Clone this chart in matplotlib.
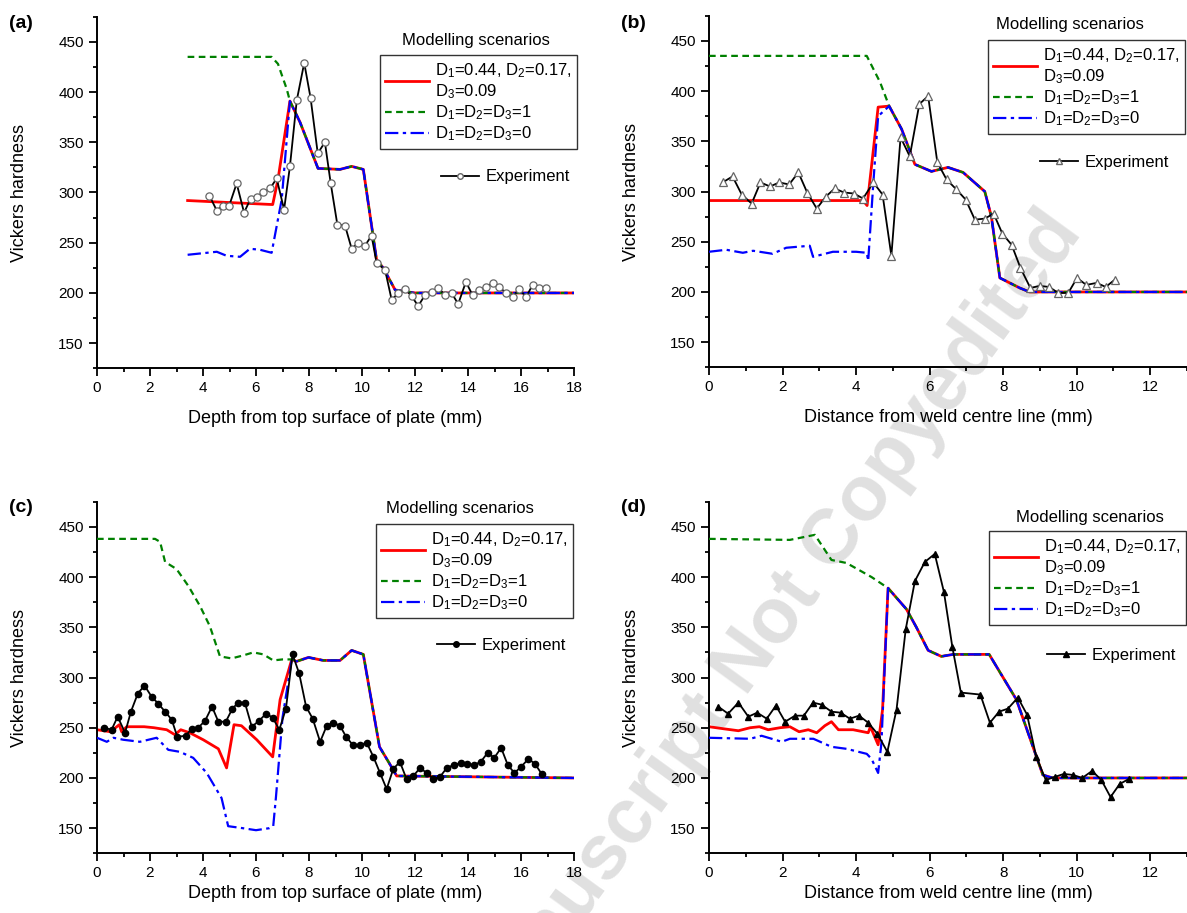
import numpy as np
import matplotlib
matplotlib.use('Agg')
import matplotlib.pyplot as plt
from matplotlib.ticker import MultipleLocator
from matplotlib.lines import Line2D

plt.rcParams['font.family'] = ['Liberation Sans', 'DejaVu Sans']
plt.rcParams['mathtext.fontset'] = 'custom'
plt.rcParams['mathtext.rm'] = 'Liberation Sans'
plt.rcParams['mathtext.it'] = 'Liberation Sans:italic'

# ---------------- panel (a) ----------------
a_tail_x = [7.28, 7.66, 8.34, 9.17, 9.61, 10.05, 10.55, 10.8, 11.25, 12.0, 18.0]
a_tail_y = [391, 370, 324, 323, 326, 323, 233, 225, 203, 200, 200]
a_red_x = [3.42, 5.0, 6.63, 6.83]
a_red_y = [292, 290, 288, 313]
a_green_x = [3.42, 6.59, 6.83, 7.0, 7.16]
a_green_y = [435, 435, 428, 415, 403]
a_blue_x = [3.42, 4.52, 4.89, 5.4, 5.77, 6.15, 6.59, 6.97]
a_blue_y = [238, 241, 237, 236, 244, 243, 240, 293]
a_exp_x = [4.24, 4.52, 4.74, 4.99, 5.27, 5.55, 5.8, 6.03, 6.28, 6.53, 6.78, 7.06,
           7.28, 7.54, 7.82, 8.06, 8.33, 8.6, 8.82, 9.07, 9.36, 9.61, 9.86, 10.11,
           10.36, 10.55, 10.87, 11.12, 11.37, 11.62, 11.87, 12.12, 12.38, 12.63,
           12.88, 13.13, 13.38, 13.63, 13.92, 14.17, 14.43, 14.68, 14.93, 15.18,
           15.43, 15.68, 15.93, 16.19, 16.44, 16.69, 16.96]
a_exp_y = [297, 282, 287, 287, 309, 280, 294, 296, 300, 304, 314, 283,
           326, 392, 429, 394, 339, 350, 309, 268, 267, 244, 250, 247,
           257, 230, 223, 193, 200, 204, 197, 187, 198, 201,
           205, 198, 200, 189, 211, 198, 203, 206, 210, 206,
           200, 196, 204, 196, 208, 205, 205]

# ---------------- panel (b) ----------------
b_tail_x = [4.9, 5.24, 5.6, 6.05, 6.5, 6.91, 7.5, 7.68, 7.91, 8.45, 8.72, 13.0]
b_tail_y = [385, 362, 327, 320, 324, 319, 300, 275, 214, 204, 200, 200]
b_red_x = [0.0, 2.0, 4.19, 4.3, 4.6]
b_red_y = [291, 291, 291, 286, 384]
b_green_x = [0.0, 4.29, 4.65]
b_green_y = [435, 435, 409]
b_blue_x = [0.0, 0.47, 0.92, 1.2, 1.73, 2.1, 2.74, 2.83, 3.37, 4.0, 4.29, 4.33, 4.47, 4.6]
b_blue_y = [240, 242, 239, 241, 238, 244, 246, 235, 240, 240, 239, 231, 309, 375]
b_exp_x = [0.37, 0.64, 0.89, 1.16, 1.4, 1.66, 1.91, 2.18, 2.43, 2.67, 2.93, 3.18,
           3.42, 3.67, 3.94, 4.19, 4.47, 4.72, 4.96, 5.21, 5.46, 5.72, 5.96, 6.21,
           6.46, 6.73, 6.98, 7.23, 7.5, 7.74, 7.98, 8.23, 8.47, 8.74, 8.99, 9.25,
           9.5, 9.77, 10.01, 10.26, 10.54, 10.79, 11.03]
b_exp_y = [309, 315, 297, 288, 309, 305, 309, 307, 319, 299, 283, 295,
           303, 299, 298, 293, 309, 297, 236, 354, 335, 387, 395, 329,
           312, 302, 292, 272, 273, 278, 258, 247, 224, 204, 206, 205,
           199, 199, 214, 207, 209, 205, 212]

# ---------------- panel (c) ----------------
c_tail_x = [7.35, 7.53, 7.98, 8.54, 9.17, 9.61, 10.05, 10.66, 11.0, 11.31, 18.0]
c_tail_y = [318, 316, 320, 317, 317, 327, 323, 231, 216, 202, 200]
c_red_x = [0.0, 0.51, 0.84, 0.93, 1.12, 1.78, 2.15, 2.63, 2.94, 3.16, 3.5, 4.01,
           4.58, 4.89, 5.17, 5.45, 6.03, 6.63, 6.91]
c_red_y = [248, 246, 253, 246, 251, 251, 250, 248, 243, 248, 245, 238,
           229, 210, 253, 252, 238, 221, 278]
c_green_x = [0.0, 2.19, 2.38, 2.57, 3.0, 3.45, 3.89, 4.26, 4.64, 5.08, 5.52, 5.9,
             6.28, 6.65, 7.0]
c_green_y = [438, 438, 435, 415, 408, 391, 371, 351, 321, 319, 322, 325,
             323, 317, 318]
c_blue_x = [0.0, 0.37, 0.62, 1.0, 1.62, 2.25, 2.69, 3.13, 3.63, 4.14, 4.7, 4.95,
            5.5, 6.0, 6.5, 6.65, 6.75, 7.0]
c_blue_y = [240, 236, 240, 238, 236, 240, 228, 226, 220, 205, 180, 152,
            150, 148, 150, 152, 180, 260]
c_exp_x = [0.26, 0.55, 0.78, 1.06, 1.28, 1.54, 1.79, 2.06, 2.31, 2.57, 2.82, 3.03,
           3.35, 3.57, 3.82, 4.08, 4.34, 4.58, 4.86, 5.11, 5.33, 5.58, 5.84, 6.12,
           6.38, 6.63, 6.88, 7.13, 7.38, 7.63, 7.89, 8.14, 8.42, 8.67, 8.92, 9.17,
           9.4, 9.65, 9.92, 10.18, 10.43, 10.68, 10.93, 11.18, 11.43, 11.68, 11.94,
           12.19, 12.44, 12.69, 12.94, 13.2, 13.47, 13.72, 13.97, 14.23, 14.48,
           14.74, 14.99, 15.25, 15.5, 15.75, 16.0, 16.28, 16.53, 16.78]
c_exp_y = [250, 248, 261, 245, 266, 284, 292, 281, 274, 266, 258, 241,
           242, 249, 250, 257, 271, 256, 256, 269, 275, 275, 251, 257,
           264, 260, 248, 269, 323, 304, 271, 259, 236, 252, 255, 252,
           241, 233, 233, 235, 221, 205, 189, 209, 216, 199, 202,
           210, 205, 199, 201, 210, 213, 215, 214, 213, 216,
           225, 220, 230, 213, 205, 211, 219, 214, 204]

# ---------------- panel (d) ----------------
d_tail_x = [4.87, 5.37, 5.64, 5.96, 6.32, 6.64, 7.62, 8.36, 9.08, 9.35, 13.0]
d_tail_y = [389, 368, 350, 327, 321, 323, 323, 278, 203, 200, 200]
d_red_x = [0.0, 0.39, 0.8, 1.12, 1.37, 1.61, 1.93, 2.2, 2.45, 2.7, 2.93, 3.15,
           3.33, 3.52, 3.92, 4.33, 4.39, 4.6, 4.72]
d_red_y = [251, 249, 247, 250, 251, 248, 250, 251, 246, 248, 245, 252,
           256, 248, 248, 245, 251, 233, 268]
d_green_x = [0.0, 2.2, 2.88, 3.33, 3.74, 4.42]
d_green_y = [438, 437, 442, 417, 414, 400]
d_blue_x = [0.0, 1.12, 1.43, 1.98, 2.2, 2.84, 3.33, 3.74, 4.29, 4.42, 4.6, 4.69]
d_blue_y = [240, 239, 242, 236, 239, 239, 231, 229, 224, 219, 205, 235]
d_exp_x = [0.25, 0.52, 0.8, 1.07, 1.31, 1.57, 1.82, 2.07, 2.34, 2.58, 2.83, 3.06,
           3.33, 3.58, 3.83, 4.08, 4.33, 4.58, 4.85, 5.1, 5.35, 5.6, 5.87, 6.14,
           6.39, 6.62, 6.85, 7.38, 7.64, 7.89, 8.13, 8.4, 8.65, 8.9, 9.16, 9.4,
           9.65, 9.9, 10.15, 10.42, 10.67, 10.92, 11.17, 11.42]
d_exp_y = [271, 264, 275, 261, 265, 259, 272, 256, 262, 262, 275, 273,
           266, 265, 259, 262, 255, 244, 226, 268, 348, 396, 415, 423,
           385, 330, 285, 283, 255, 266, 269, 280, 263, 221, 198, 201,
           204, 203, 200, 207, 198, 181, 194, 199]

W, H = 1187, 913
lab_red = 'D$_1$=0.44, D$_2$=0.17,\nD$_3$=0.09'
lab_green = 'D$_1$=D$_2$=D$_3$=1'
lab_blue = 'D$_1$=D$_2$=D$_3$=0'

fig = plt.figure(figsize=(W / 100, H / 100), dpi=100)


def fx(p):
    return p / W


def fy(p):
    return 1 - p / H


def panel(rect, xmax, red, green, blue, tail, exp, mk, filled, xlabel, tag,
          tagpos, xlab_top, box_tr, title_pos, exp_pos):
    left, bottom_px, width = rect
    ax = fig.add_axes([fx(left), fy(bottom_px), width / W, 351.6 / H])
    ax.set_facecolor('none')
    tx, ty = tail
    ax.plot(red[0] + tx, red[1] + ty, color='#ff0000', lw=2.0, zorder=2)
    ax.plot(green[0] + tx, green[1] + ty, color='#008000', lw=1.6,
            ls=(0, (3, 2)), zorder=3)
    ax.plot(blue[0] + tx, blue[1] + ty, color='#0000ff', lw=1.6,
            ls=(0, (6, 2, 1.5, 2)), zorder=4)
    if filled:
        ax.plot(exp[0], exp[1], color='black', lw=1.3, marker=mk, ms=4.5,
                mfc='black', mec='black', zorder=5)
    else:
        ax.plot(exp[0], exp[1], color='black', lw=1.3, marker=mk, ms=5.2,
                mfc='white', mec='#666666', mew=0.9, zorder=5)

    ax.set_xlim(0, xmax)
    ax.set_ylim(125, 475)
    ax.set_yticks([150, 200, 250, 300, 350, 400, 450])
    ax.xaxis.set_major_locator(MultipleLocator(2))
    ax.xaxis.set_minor_locator(MultipleLocator(1))
    ax.yaxis.set_minor_locator(MultipleLocator(25))
    for s in ['top', 'right']:
        ax.spines[s].set_visible(False)
    for s in ['left', 'bottom']:
        ax.spines[s].set_linewidth(1.4)
    ax.tick_params(which='both', direction='out', width=1.3, labelsize=11)
    ax.tick_params(which='major', length=6)
    ax.tick_params(which='minor', length=3)
    ax.set_xlabel(xlabel, fontsize=13)
    ax.set_ylabel('Vickers hardness', fontsize=13)
    ax.yaxis.set_label_coords(-0.145, 0.5)
    ax.xaxis.set_label_coords(0.5, -(xlab_top - bottom_px) / 351.6)
    fig.text(fx(tagpos[0]), fy(tagpos[1]), tag, fontsize=14,
             fontweight='bold', va='center', ha='left')

    # modelling scenarios legend
    hr = Line2D([], [], color='#ff0000', lw=2.0)
    hg = Line2D([], [], color='#008000', lw=1.6, ls=(0, (3, 2)))
    hb = Line2D([], [], color='#0000ff', lw=1.6, ls=(0, (6, 2, 1.5, 2)))
    leg = ax.legend([hr, hg, hb], [lab_red, lab_green, lab_blue],
                    loc='upper right', bbox_to_anchor=(fx(box_tr[0]), fy(box_tr[1])),
                    bbox_transform=fig.transFigure, borderaxespad=0,
                    fontsize=12, frameon=True, fancybox=False, framealpha=1,
                    edgecolor='#333333', handlelength=2.6, handletextpad=0.35,
                    labelspacing=0.15, borderpad=0.35)
    leg.get_frame().set_linewidth(1.0)
    ax.add_artist(leg)
    fig.text(fx(title_pos[0]), fy(title_pos[1]), 'Modelling scenarios',
             fontsize=12, ha='center', va='center')

    if filled:
        he = Line2D([], [], color='black', lw=1.3, marker=mk, ms=4,
                    mfc='black', mec='black')
    else:
        he = Line2D([], [], color='black', lw=1.3, marker=mk, ms=4,
                    mfc='white', mec='#666666')
    ax.legend([he], ['Experiment'], loc='center left',
              bbox_to_anchor=(fx(exp_pos[0]), fy(exp_pos[1])),
              bbox_transform=fig.transFigure, borderaxespad=0,
              borderpad=0, fontsize=12, frameon=False,
              handlelength=2.3, handletextpad=0.4)
    return ax


panel((97, 368.3, 477), 18, (a_red_x, a_red_y), (a_green_x, a_green_y),
      (a_blue_x, a_blue_y), (a_tail_x, a_tail_y), (a_exp_x, a_exp_y), 'o', False,
      'Depth from top surface of plate (mm)', '(a)', (9, 24), 410,
      (577, 55), (476, 41), (441, 177))

panel((709, 367.3, 478), 13, (b_red_x, b_red_y), (b_green_x, b_green_y),
      (b_blue_x, b_blue_y), (b_tail_x, b_tail_y), (b_exp_x, b_exp_y), '^', False,
      'Distance from weld centre line (mm)', '(b)', (621, 24), 409,
      (1185, 40), (1070, 25), (1040, 162))

panel((97, 853.3, 477), 18, (c_red_x, c_red_y), (c_green_x, c_green_y),
      (c_blue_x, c_blue_y), (c_tail_x, c_tail_y), (c_exp_x, c_exp_y), 'o', True,
      'Depth from top surface of plate (mm)', '(c)', (9, 508), 885,
      (573, 524), (460, 509), (437, 645))

panel((709, 853.3, 478), 13, (d_red_x, d_red_y), (d_green_x, d_green_y),
      (d_blue_x, d_blue_y), (d_tail_x, d_tail_y), (d_exp_x, d_exp_y), '^', True,
      'Distance from weld centre line (mm)', '(d)', (621, 508), 885,
      (1186, 531), (1090, 517), (1047, 655))

# faint diagonal watermark
fig.text(fx(770), fy(630), 'Manuscript Not Copyedited', rotation=54,
         fontsize=56, fontweight='bold', color='#e0e0e0', ha='center',
         va='center', zorder=-1)

fig.savefig('out.png', dpi=100)
